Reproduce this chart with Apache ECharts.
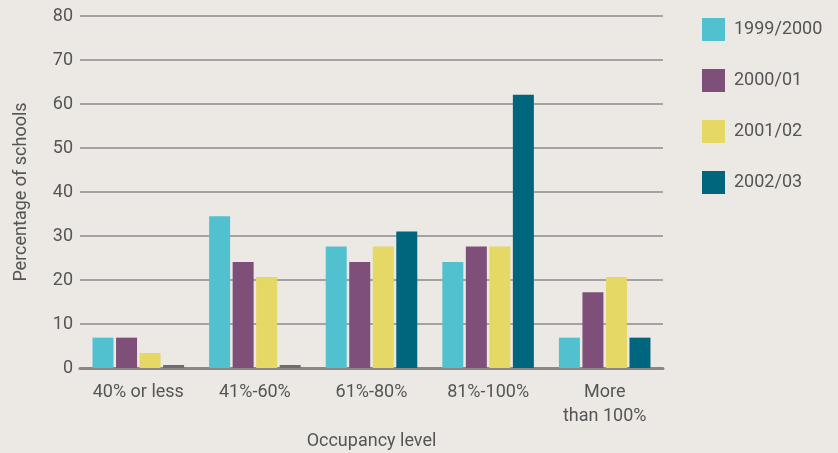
<!DOCTYPE html>
<html>
<head>
<meta charset="utf-8">
<script src="https://cdn.jsdelivr.net/npm/echarts@6/dist/echarts.min.js"></script>
<style>
  html, body { margin: 0; padding: 0; background: #ece9e4; }
  #chart { width: 838px; height: 453px; }
</style>
</head>
<body>
<div id="chart"></div>
<script>
// occupancy categories
const categories = ['40% or less', '41%-60%', '61%-80%', '81%-100%', 'More\nthan 100%']
const seriesNames = ['1999/2000', '2000/01', '2001/02', '2002/03']
// percentage of schools per year
const values1999 = [6.9, 34.5, 27.6, 24.1, 6.9]
const values2000 = [6.9, 24.1, 24.1, 27.6, 17.2]
const values2001 = [3.4, 20.7, 27.6, 27.6, 20.7]
const values2002 = [0, 0, 31.0, 62.1, 6.9]
const yTicks = { min: 0, max: 80, interval: 10 }

const colors = ['#52c1cf', '#7e5079', '#e5d865', '#00667e']
const allValues = [values1999, values2000, values2001, values2002]

const chart = echarts.init(document.getElementById('chart'))

const textColor = '#555555'
const font = 'Roboto, "Liberation Sans", sans-serif'

const options = {
  backgroundColor: '#ece9e4',
  animation: false,
  color: colors,
  textStyle: { fontFamily: font },
  legend: {
    orient: 'vertical',
    left: 697,
    top: 13,
    itemWidth: 23,
    itemHeight: 23,
    itemGap: 28,
    icon: 'rect',
    textStyle: { color: textColor, fontSize: 18, padding: [0, 0, 0, 4] },
    data: seriesNames
  },
  grid: { // plot area margins
    left: 80,
    right: 175,
    top: 16,
    bottom: 85,
    outerBoundsMode: 'none'
  },
  xAxis: {
    type: 'category',
    data: categories,
    name: 'Occupancy level',
    nameLocation: 'middle',
    nameGap: 62,
    nameTextStyle: { color: textColor, fontSize: 18 },
    axisLine: { show: true, lineStyle: { color: '#888888', width: 3 } },
    axisTick: { show: false },
    axisLabel: {
      color: textColor,
      fontSize: 18,
      margin: 12,
      lineHeight: 24,
      interval: 0
    }
  },
  yAxis: {
    type: 'value',
    min: yTicks.min,
    max: yTicks.max,
    interval: yTicks.interval,
    name: 'Percentage of schools',
    nameLocation: 'middle',
    nameGap: 50,
    nameTextStyle: { color: textColor, fontSize: 18 },
    axisLine: { show: false },
    axisTick: { show: false },
    splitLine: { show: true, lineStyle: { color: '#a3a3a3', width: 2 } },
    axisLabel: { color: textColor, fontSize: 18, margin: 7 }
  },
  series: seriesNames.map((name, i) => ({
    name: name,
    type: 'bar',
    data: allValues[i],
    barWidth: 21,
    barGap: '12%',
    barMinHeight: i === 3 ? 3 : 0,
    itemStyle: {
      // zero values show as a grey stub on the baseline
      color: function (params) {
        return params.value === 0 ? '#6e6e6e' : colors[i]
      }
    }
  }))
}

chart.setOption(options)
</script>
</body>
</html>
